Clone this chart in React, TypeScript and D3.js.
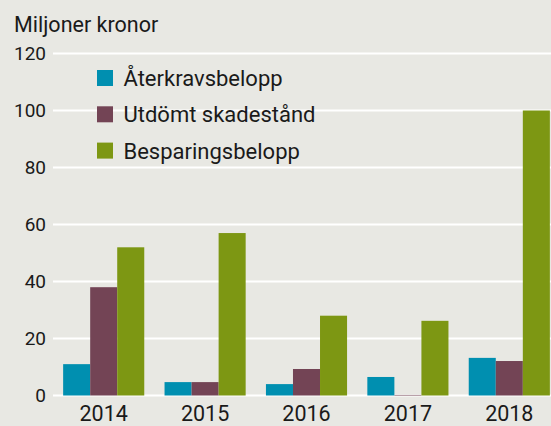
import React from "react";
import * as d3 from "d3";

const years = ["2014", "2015", "2016", "2017", "2018"];
const seriesNames = ["Återkravsbelopp", "Utdömt skadestånd", "Besparingsbelopp"];
const aterkrav = [11, 4.7, 4, 6.5, 13.2];
const skadestand = [38, 4.7, 9.3, 0.2, 12.1];
const besparing = [52, 57, 28, 26.2, 100];
const yTicks = [0, 20, 40, 60, 80, 100, 120];
const colors = ["#008fb0", "#734455", "#7d9713"];

const W = 551;
const H = 426;
const FONT = "Roboto, 'Liberation Sans', sans-serif";

export default function App() {
  const series = [aterkrav, skadestand, besparing];
  const x = d3.scaleBand<string>().domain(years).range([53, 560]).paddingInner(0.2).paddingOuter(0.1);
  const xi = d3.scaleBand<number>().domain([0, 1, 2]).range([0, x.bandwidth()]);
  const y = d3.scaleLinear().domain([0, 120]).range([395.5, 53.5]);

  return (
    <svg width={W} height={H} style={{ position: "absolute", left: 0, top: 0, background: "#e8e8e3" }} fontFamily={FONT}>
      <rect x={0} y={0} width={W} height={H} fill="#e8e8e3" />
      <text x={14} y={32} fontSize={21.5} fill="#1a1a1a">Miljoner kronor</text>
      {yTicks.map((t) => (
        <g key={t}>
          <line x1={53} x2={W} y1={y(t)} y2={y(t)} stroke="#ffffff" strokeWidth={2} />
          <text x={46} y={y(t) + 6.8} fontSize={19} textAnchor="end" fill="#1a1a1a">{t}</text>
        </g>
      ))}
      {years.map((yr, i) => (
        <g key={yr}>
          {series.map((s, j) => (
            <rect
              key={j}
              x={(x(yr) as number) + (xi(j) as number)}
              y={y(s[i])}
              width={xi.bandwidth()}
              height={y(0) - y(s[i])}
              fill={colors[j]}
            />
          ))}
          <text x={(x(yr) as number) + x.bandwidth() / 2} y={420.5} fontSize={21.5} textAnchor="middle" fill="#1a1a1a">{yr}</text>
        </g>
      ))}
      {seriesNames.map((n, j) => (
        <g key={n}>
          <rect x={97} y={70 + j * 36.3} width={16} height={16} fill={colors[j]} />
          <text x={123.5} y={86 + j * 36.3} fontSize={22} fill="#1a1a1a">{n}</text>
        </g>
      ))}
    </svg>
  );
}
